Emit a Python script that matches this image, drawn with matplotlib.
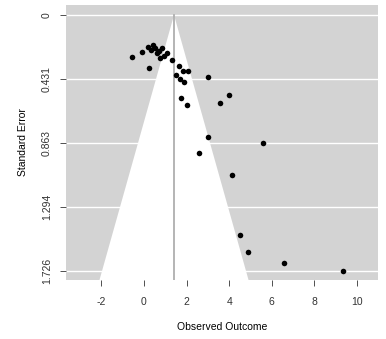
import numpy as np
import matplotlib.pyplot as plt

plt.rcParams['font.family'] = ['Liberation Sans', 'DejaVu Sans']

# observed outcomes and their standard errors
yi = [-0.58, -0.11, 0.20, 0.31, 0.44, 0.52, 0.59, 0.72, 0.83, 0.75, 0.94,
      1.06, 1.30, 0.25, 1.65, 1.51, 1.84, 2.07, 1.69, 1.87, 3.01, 1.76,
      2.01, 3.59, 4.01, 3.02, 5.59, 2.59, 4.11, 4.53, 4.89, 6.57, 9.33]
sei = [0.285, 0.251, 0.213, 0.236, 0.202, 0.224, 0.258, 0.242, 0.224, 0.288,
       0.274, 0.258, 0.303, 0.359, 0.343, 0.404, 0.374, 0.380, 0.431, 0.451,
       0.420, 0.556, 0.609, 0.591, 0.537, 0.822, 0.862, 0.927, 1.077, 1.481,
       1.594, 1.668, 1.726]
estimate = 1.41
se_ticks = [0, 0.431, 0.863, 1.294, 1.726]
se_labels = ['0', '0.431', '0.863', '1.294', '1.726']
x_ticks = [-2, 0, 2, 4, 6, 8, 10]

fig = plt.figure(figsize=(3.86, 3.39), dpi=100)
ax = fig.add_axes([0.171, 0.174, 0.808, 0.811])

xlim = (-3.66, 10.98)
ymax = 1.785
ax.set_xlim(*xlim)
ax.set_ylim(ymax, -0.067)
ax.set_facecolor('#d3d3d3')

# funnel
c = 1.96
ax.fill([estimate - c * ymax, estimate, estimate + c * ymax],
        [ymax, 0, ymax], color='white', lw=0, zorder=1)
for t in se_ticks:
    ax.axhline(t, color='white', lw=1, zorder=1.5)
ax.plot([estimate, estimate], [0, ymax], color='#a8a8a8', lw=1.2, zorder=2)

ax.scatter(yi, sei, s=16, color='black', zorder=3, lw=0)

for s in ax.spines.values():
    s.set_visible(False)

ax.set_xticks(x_ticks)
ax.set_xticklabels([str(v) for v in x_ticks])
ax.set_yticks(se_ticks)
ax.set_yticklabels(se_labels, rotation=90, va='center')
ax.tick_params(labelsize=7.5, length=4, width=0.6, colors='#333333')
ax.tick_params(axis='x', pad=8)
ax.tick_params(axis='y', pad=6)

ax.set_xlabel('Observed Outcome', fontsize=7.5, labelpad=11)
ax.set_ylabel('Standard Error', fontsize=7.5, labelpad=10)

fig.savefig('out.png', dpi=100)
